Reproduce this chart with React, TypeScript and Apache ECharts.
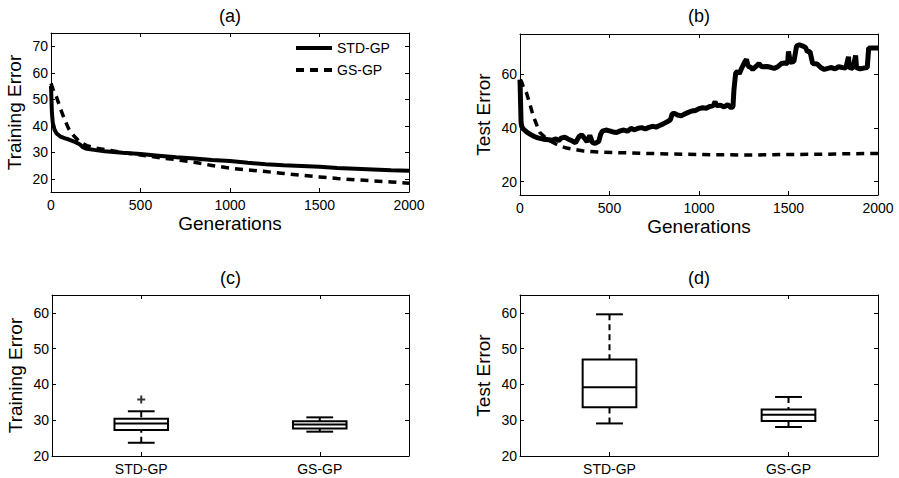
import React, { useEffect, useRef } from 'react';
import * as echarts from 'echarts';

const FONT = '"Liberation Sans", Arial, Helvetica, sans-serif';

// ---- Panel (a): training error vs generations ----
const genA = [0, 5, 10, 20, 30, 50, 75, 100, 130, 160, 180, 200, 250, 300, 400, 500, 600, 700, 800, 900, 1000, 1100, 1200, 1300, 1400, 1500, 1600, 1700, 1800, 1900, 2000];
const stdTrainA = [55, 45, 41, 38.5, 37.2, 36, 35.3, 34.8, 34, 33, 31.8, 31.3, 30.8, 30.4, 29.8, 29.3, 28.7, 28.1, 27.6, 27.1, 26.7, 26, 25.5, 25.1, 24.8, 24.5, 24.1, 23.8, 23.5, 23.2, 23];
const gsTrainA = [56, 55, 54, 52.5, 51, 47, 42.5, 38.7, 36, 34, 33.2, 32.5, 31.6, 31, 29.9, 29, 28, 27.2, 26.2, 25, 24, 23.3, 22.7, 22, 21.3, 20.7, 20.1, 19.6, 19.2, 18.8, 18.3];

// ---- Panel (b): test error vs generations ----
const genBstd = [0, 3, 6, 10, 20, 40, 60, 80, 100, 130, 160, 180, 200, 215, 230, 250, 270, 290, 310, 330, 345, 360, 375, 390, 405, 420, 440, 450, 460, 480, 500, 520, 540, 560, 580, 600, 620, 640, 660, 680, 700, 720, 740, 760, 780, 800, 820, 840, 850, 860, 880, 900, 920, 940, 960, 980, 1000, 1020, 1040, 1060, 1080, 1090, 1100, 1120, 1140, 1160, 1180, 1190, 1195, 1205, 1215, 1225, 1240, 1255, 1265, 1275, 1290, 1300, 1320, 1335, 1350, 1380, 1400, 1420, 1440, 1460, 1480, 1495, 1500, 1510, 1530, 1545, 1560, 1580, 1595, 1605, 1620, 1635, 1660, 1680, 1700, 1720, 1740, 1760, 1780, 1800, 1820, 1835, 1840, 1860, 1875, 1880, 1900, 1920, 1940, 1948, 1970, 2000];
const stdTestB = [58, 50, 42, 40.5, 39.5, 38.3, 37.5, 36.8, 36.3, 35.8, 35.6, 35.4, 35.9, 35.2, 36.2, 36.6, 35.8, 35.2, 34.5, 36.8, 37.4, 36.2, 34.8, 37.2, 34.5, 34.2, 35, 37.5, 38.8, 39.2, 38.9, 38.5, 38.3, 38.9, 39.2, 38.8, 39.8, 39.3, 39.9, 40.1, 39.6, 40.2, 40.6, 40.3, 40.9, 41.5, 42.2, 43, 45.2, 45.5, 44.8, 44.5, 45.2, 45.8, 46.3, 46.5, 47.2, 47.5, 47.3, 48, 48.3, 49.8, 48.2, 48.5, 47.8, 48.7, 47.5, 48, 54, 60.5, 61, 60.2, 62.5, 64.5, 65.5, 63, 62.5, 61.8, 63, 64, 62.8, 62.9, 62.6, 62.2, 62.8, 64, 64.2, 64, 68.5, 64.5, 64.7, 70.5, 71, 70.5, 70, 68.5, 68.5, 64, 63.8, 62.5, 61.8, 62.2, 62.5, 62, 62.8, 62.5, 62.3, 66.5, 62.5, 62.2, 67, 62.5, 62, 62.3, 62.5, 69.8, 69.8, 69.8];
const genBgs = [0, 10, 20, 37, 50, 75, 100, 112, 140, 168, 200, 224, 260, 300, 354, 450, 541, 700, 913, 1100, 1286, 1500, 1700, 1850, 2000];
const gsTestB = [58, 57, 55, 52.9, 50, 44.3, 40, 38.2, 36.5, 35.1, 34, 33.3, 32.5, 32, 31.4, 31, 30.8, 30.5, 30.2, 30, 29.9, 30.1, 30.2, 30.4, 30.5];

// ---- Panels (c), (d): box plots ----
const boxCategories = ['STD-GP', 'GS-GP'];
// [lower whisker, q1, median, q3, upper whisker]
const trainBoxSTD = [23.7, 27.3, 29.1, 30.4, 32.5];
const trainBoxGS = [26.8, 27.7, 28.8, 29.7, 30.8];
const trainOutlierSTD = [35.8];
const testBoxSTD = [29.1, 33.6, 39.2, 47.0, 59.6];
const testBoxGS = [28.1, 29.8, 31.5, 33.0, 36.5];

// ---- tick values ----
const genTicks = [0, 500, 1000, 1500, 2000];
const ticksA = [20, 30, 40, 50, 60, 70];
const ticksB = [20, 40, 60];
const ticksBox = [20, 30, 40, 50, 60];

const panelTitles = ['(a)', '(b)', '(c)', '(d)'];

const grids = [
  { left: 51, top: 33, width: 358, height: 159 },
  { left: 520, top: 34, width: 358, height: 161 },
  { left: 52, top: 295, width: 357, height: 161 },
  { left: 520, top: 295, width: 358, height: 161 },
];

const black = '#000';
const axisLine = { show: true, onZero: false, lineStyle: { color: black, width: 1 } };
const tickStyle = (customValues?: number[]) => ({
  show: true,
  inside: true,
  length: 4,
  lineStyle: { color: black, width: 1 },
  ...(customValues ? { customValues } : {}),
});
const labelStyle = { color: black, fontSize: 14, fontFamily: FONT };
const plain = (v: number) => String(v);

function valueX(grid: number, top: boolean, withName: boolean) {
  return {
    type: 'value',
    gridIndex: grid,
    position: top ? 'top' : 'bottom',
    min: 0,
    max: 2000,
    interval: 500,
    axisLine,
    axisTick: tickStyle(genTicks),
    axisLabel: top ? { show: false } : { ...labelStyle, margin: 6, customValues: genTicks, formatter: plain },
    splitLine: { show: false },
    name: withName && !top ? 'Generations' : '',
    nameLocation: 'middle',
    nameGap: 22,
    nameTextStyle: { color: black, fontSize: 19, fontFamily: FONT },
  };
}

function valueY(grid: number, right: boolean, min: number, max: number, ticks: number[], name: string) {
  return {
    type: 'value',
    gridIndex: grid,
    position: right ? 'right' : 'left',
    min,
    max,
    axisLine,
    axisTick: tickStyle(ticks),
    axisLabel: right ? { show: false } : { ...labelStyle, margin: 3, customValues: ticks, formatter: plain },
    splitLine: { show: false },
    name: right ? '' : name,
    nameLocation: 'middle',
    nameGap: 27,
    nameTextStyle: { color: black, fontSize: 19, fontFamily: FONT },
  };
}

function catX(grid: number, top: boolean) {
  return {
    type: 'category',
    gridIndex: grid,
    position: top ? 'top' : 'bottom',
    data: boxCategories,
    boundaryGap: true,
    axisLine,
    axisTick: { ...tickStyle(), alignWithLabel: true },
    axisLabel: top ? { show: false } : { ...labelStyle, margin: 6 },
    splitLine: { show: false },
  };
}

const renderBox = (params: any, api: any) => {
  const idx = api.value(0);
  const lo = api.coord([idx, api.value(1)]);
  const q1 = api.coord([idx, api.value(2)]);
  const med = api.coord([idx, api.value(3)]);
  const q3 = api.coord([idx, api.value(4)]);
  const hi = api.coord([idx, api.value(5)]);
  const band = api.size([1, 0])[0];
  const bw = band * 0.3;
  const cw = bw / 2;
  const x = lo[0];
  const solid = { stroke: black, lineWidth: 2, fill: 'none' };
  const dashed = { stroke: black, lineWidth: 2, fill: 'none', lineDash: [6, 4] };
  return {
    type: 'group',
    children: [
      { type: 'line', shape: { x1: x, y1: hi[1], x2: x, y2: q3[1] }, style: dashed },
      { type: 'line', shape: { x1: x, y1: lo[1], x2: x, y2: q1[1] }, style: dashed },
      { type: 'line', shape: { x1: x - cw / 2, y1: hi[1], x2: x + cw / 2, y2: hi[1] }, style: solid },
      { type: 'line', shape: { x1: x - cw / 2, y1: lo[1], x2: x + cw / 2, y2: lo[1] }, style: solid },
      { type: 'rect', shape: { x: x - bw / 2, y: q3[1], width: bw, height: q1[1] - q3[1] }, style: solid },
      { type: 'line', shape: { x1: x - bw / 2, y1: med[1], x2: x + bw / 2, y2: med[1] }, style: solid },
    ],
  };
};

function buildOption() {
  const pairs = (xs: number[], ys: number[]) => xs.map((x, i) => [x, ys[i]]);
  const titleX = grids.map((g) => g.left + g.width / 2);
  const titleY = [16, 16, 278, 278];
  return {
    animation: false,
    backgroundColor: '#fff',
    textStyle: { fontFamily: FONT },
    grid: grids.map((g) => ({ ...g, containLabel: false })),
    legend: {
      orient: 'vertical',
      left: 294,
      top: 41,
      padding: 0,
      itemWidth: 36,
      itemHeight: 14,
      itemGap: 8,
      data: ['STD-GP', 'GS-GP'],
      itemStyle: { color: 'rgba(0,0,0,0)', borderColor: 'rgba(0,0,0,0)', borderWidth: 0 },
      lineStyle: { width: 4 },
      textStyle: { color: black, fontSize: 14, fontFamily: FONT },
      selectedMode: false,
    },
    xAxis: [
      valueX(0, false, true), valueX(0, true, false),
      valueX(1, false, true), valueX(1, true, false),
      catX(2, false), catX(2, true),
      catX(3, false), catX(3, true),
    ],
    yAxis: [
      valueY(0, false, 15, 75, ticksA, 'Training Error'), valueY(0, true, 15, 75, ticksA, ''),
      valueY(1, false, 15, 75, ticksB, 'Test Error'), valueY(1, true, 15, 75, ticksB, ''),
      valueY(2, false, 20, 65, ticksBox, 'Training Error'), valueY(2, true, 20, 65, ticksBox, ''),
      valueY(3, false, 20, 65, ticksBox, 'Test Error'), valueY(3, true, 20, 65, ticksBox, ''),
    ],
    graphic: panelTitles.map((t, i) => ({
      type: 'text',
      x: titleX[i],
      y: titleY[i],
      style: {
        text: t,
        fill: black,
        font: `18px ${FONT}`,
        textAlign: 'center',
        textVerticalAlign: 'middle',
      },
    })),
    series: [
      {
        name: 'STD-GP', type: 'line', xAxisIndex: 0, yAxisIndex: 0, symbol: 'none',
        data: pairs(genA, stdTrainA), lineStyle: { color: black, width: 4 }, itemStyle: { color: black },
      },
      {
        name: 'GS-GP', type: 'line', xAxisIndex: 0, yAxisIndex: 0, symbol: 'none',
        data: pairs(genA, gsTrainA), lineStyle: { color: black, width: 3.5, type: [8, 6] }, itemStyle: { color: black },
      },
      {
        name: 'STD-GP', type: 'line', xAxisIndex: 2, yAxisIndex: 2, symbol: 'none',
        data: pairs(genBstd, stdTestB), lineStyle: { color: black, width: 5 }, itemStyle: { color: black },
      },
      {
        name: 'GS-GP', type: 'line', xAxisIndex: 2, yAxisIndex: 2, symbol: 'none',
        data: pairs(genBgs, gsTestB), lineStyle: { color: black, width: 3.5, type: [8, 6] }, itemStyle: { color: black },
      },
      {
        name: 'trainBox', type: 'custom', xAxisIndex: 4, yAxisIndex: 4,
        renderItem: renderBox,
        encode: { x: 0, y: [1, 2, 3, 4, 5] },
        data: [[0, ...trainBoxSTD], [1, ...trainBoxGS]],
      },
      {
        name: 'trainOutlier', type: 'scatter', xAxisIndex: 4, yAxisIndex: 4,
        symbol: 'path://M3,0H5V3H8V5H5V8H3V5H0V3H3Z', symbolSize: 8,
        itemStyle: { color: black },
        data: trainOutlierSTD.map((v) => [0, v]),
      },
      {
        name: 'testBox', type: 'custom', xAxisIndex: 6, yAxisIndex: 6,
        renderItem: renderBox,
        encode: { x: 0, y: [1, 2, 3, 4, 5] },
        data: [[0, ...testBoxSTD], [1, ...testBoxGS]],
      },
    ],
  };
}

export default function App() {
  const ref = useRef<HTMLDivElement>(null);
  useEffect(() => {
    document.body.style.margin = '0';
    if (!ref.current) return;
    const chart = echarts.init(ref.current, undefined, { renderer: 'svg' });
    chart.setOption(buildOption() as any);
    return () => chart.dispose();
  }, []);
  return <div ref={ref} style={{ width: 899, height: 478 }} />;
}
